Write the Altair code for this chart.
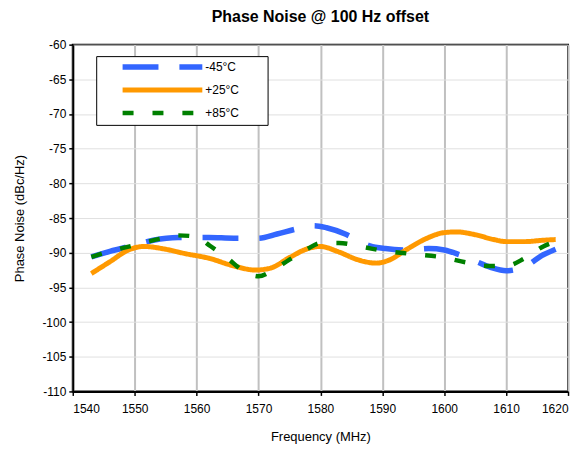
import altair as alt
import pandas as pd

series_names = ["-45°C", "+25°C", "+85°C"]
series_colors = ["#3366FF", "#FF9900", "#008000"]
series_dash = [[36, 21], [1, 0], [11, 19]]
series_width = [5.5, 4.5, 5.5]

freq_m45 = [1543, 1546, 1550, 1553, 1557, 1562, 1566, 1570, 1573, 1576, 1579, 1581, 1584, 1586, 1588,
            1590.5, 1594, 1597.5, 1600, 1602.5, 1605, 1607.5, 1610, 1613, 1616, 1618]
pn_m45 = [-90.6, -89.8, -88.9, -88.2, -87.8, -87.8, -87.9, -87.9, -87.3, -86.6, -86.1, -86.4, -87.3, -88.2, -89.0,
          -89.4, -89.6, -89.4, -89.6, -90.3, -91.2, -92.1, -92.6, -92.0, -90.3, -89.5]

freq_p25 = [1543, 1546, 1549, 1551.5, 1555, 1558, 1562, 1566, 1569.5, 1572, 1575, 1578, 1580, 1583, 1586,
            1589, 1591, 1594, 1597, 1600, 1602, 1605, 1608, 1610, 1613, 1616, 1618]
pn_p25 = [-93.0, -91.3, -89.6, -89.1, -89.5, -90.1, -90.8, -91.9, -92.5, -92.2, -90.7, -89.4, -89.1, -89.9, -91.0,
          -91.5, -91.1, -89.5, -88.0, -87.1, -87.0, -87.4, -88.1, -88.4, -88.4, -88.2, -88.1]

freq_p85 = [1543, 1546, 1550, 1554, 1557, 1560, 1562, 1565, 1567.5, 1570, 1572, 1575, 1578, 1580, 1583,
            1587, 1590, 1595, 1600, 1603.5, 1607, 1610, 1613, 1616, 1618]
pn_p85 = [-90.6, -89.8, -88.9, -88.0, -87.5, -87.7, -88.9, -90.8, -92.6, -93.4, -92.7, -91.0, -89.4, -88.6, -88.6,
          -89.2, -89.7, -90.2, -90.7, -91.4, -91.9, -91.9, -90.8, -89.1, -88.4]

rows = []
for name, fs, vs in zip(series_names, [freq_m45, freq_p25, freq_p85], [pn_m45, pn_p25, pn_p85]):
    for i, (f, v) in enumerate(zip(fs, vs)):
        rows.append({"series": name, "freq": f, "pn": v, "order": i})
df = pd.DataFrame(rows)

FONT = "Liberation Sans"

x_enc = alt.X("freq:Q", title="Frequency (MHz)",
              scale=alt.Scale(domain=[1540, 1620], nice=False, zero=False),
              axis=alt.Axis(values=list(range(1540, 1621, 10)), format="d",
                            gridColor="#c0c0c0", gridWidth=2,
                            labelPadding=8, titlePadding=16))
y_enc = alt.Y("pn:Q", title="Phase Noise (dBc/Hz)",
              scale=alt.Scale(domain=[-110, -60], nice=False, zero=False),
              axis=alt.Axis(values=list(range(-110, -59, 5)), labelExpr="datum.value + ''",
                            gridColor="#e0e0e0", gridWidth=1,
                            labelPadding=3, titlePadding=15))

legend = alt.Legend(title=None, orient="none", legendX=24, legendY=12,
                    symbolType="stroke", symbolSize=6400, clipHeight=15,
                    symbolStrokeWidth=6, labelFont=FONT, labelFontSize=12,
                    labelColor="black",
                    padding=3, symbolOffset=20, labelOffset=0, rowPadding=8)

# legend frame (white box with thin black border, as in the reference)
frame = alt.Chart(pd.DataFrame({"k": [0]})).mark_rect(
    fill="white", stroke="black", strokeWidth=1
).encode(x=alt.value(24), x2=alt.value(196), y=alt.value(12), y2=alt.value(81))

lines = alt.Chart(df).mark_line(interpolate="monotone").encode(
    x=x_enc,
    y=y_enc,
    color=alt.Color("series:N", scale=alt.Scale(domain=series_names, range=series_colors), legend=legend),
    strokeDash=alt.StrokeDash("series:N", scale=alt.Scale(domain=series_names, range=series_dash), legend=legend),
    strokeWidth=alt.StrokeWidth("series:N", scale=alt.Scale(domain=series_names, range=series_width), legend=legend),
    order="order:Q",
)

chart = alt.layer(frame, lines).properties(
    width=497, height=348,
    title=alt.Title("Phase Noise @ 100 Hz offset", font=FONT, fontSize=16, fontWeight="bold",
                    color="black", anchor="middle", offset=14),
    autosize=alt.AutoSizeParams(type="none"),
    padding={"left": 65, "top": 36, "right": 8, "bottom": 60},
).configure_view(
    stroke="black", strokeWidth=2
).configure_axis(
    labelFont=FONT, labelFontSize=12, labelColor="black",
    titleFont=FONT, titleFontSize=13, titleFontWeight="normal", titleColor="black",
    domainColor="black", domainWidth=2, tickColor="black", tickSize=4, tickWidth=1.5,
)

chart.save("out.html", embed_options={"renderer": "svg", "actions": False})
